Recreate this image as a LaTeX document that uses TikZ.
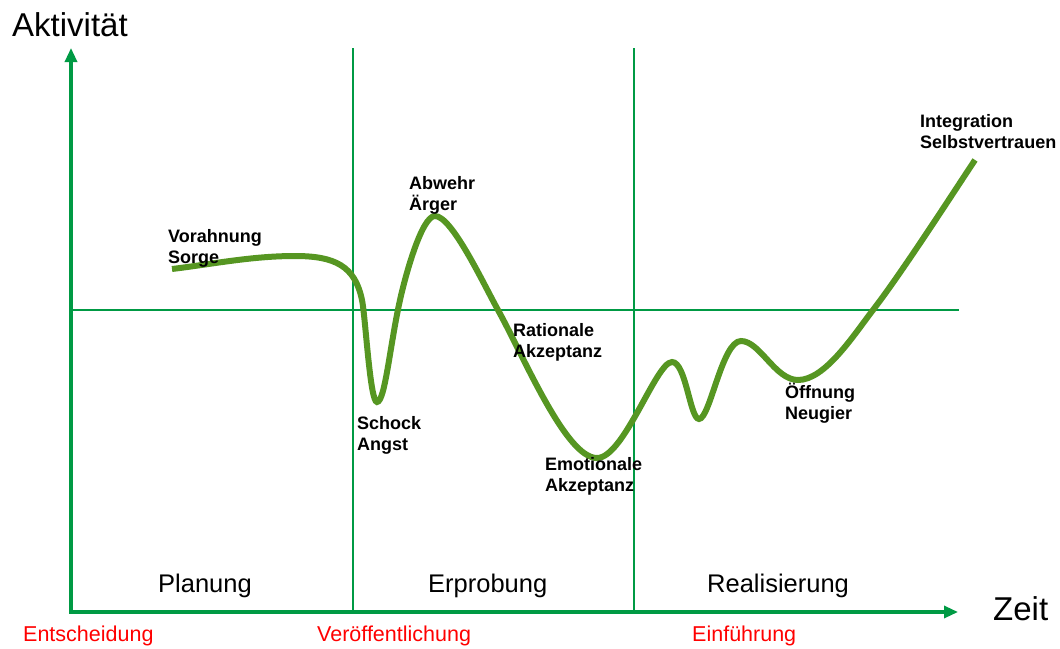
\documentclass[tikz,border=0pt]{standalone}
\usepackage{fontspec}
\setmainfont{Liberation Sans}
\usetikzlibrary{arrows.meta}

\definecolor{axisgreen}{RGB}{0,154,68}
\definecolor{curvegreen}{RGB}{86,150,34}

\begin{document}
\begin{tikzpicture}[x=1pt, y=-1pt,
  axis/.style={draw=axisgreen, line width=3.2pt, line join=miter,
    {Triangle[length=14pt,width=12pt]}-{Triangle[length=14pt,width=12pt]}},
  divider/.style={draw=axisgreen, line width=1.6pt},
  curve/.style={draw=curvegreen, line width=6pt},
  lbl/.style={anchor=base west, inner sep=0pt, align=left, font=\fontsize{18}{21}\selectfont\bfseries},
  phase/.style={anchor=base west, inner sep=0pt, font=\fontsize{25.5}{30}\selectfont},
  milestone/.style={anchor=base west, inner sep=0pt, text=red, font=\fontsize{21.5}{25}\selectfont},
  axislabel/.style={anchor=base west, inner sep=0pt, font=\fontsize{33}{40}\selectfont}
]
\useasboundingbox (0,0) rectangle (1060,648);

% axes and phase grid
\coordinate (origin) at (71,612);
\coordinate (ytip) at (71,48);
\coordinate (xtip) at (958,612);
\draw[divider] (353,48) -- (353,612);
\draw[divider] (634,48) -- (634,612);
\draw[divider] (71,310) -- (959,310);
\draw[axis] (ytip) -- (origin) -- (xtip);

\node[axislabel] (aktivitaet) at (12,36) {Aktivität};
\node[axislabel] (zeit) at (993,620) {Zeit};

% the change curve, one bezier per swing
\draw[curve] (172,269)
  .. controls (213,264) and (252,256) .. (295,256)
  .. controls (335,256) and (355,266) .. (362,300)
  .. controls (365.5,317) and (370,402) .. (377,402)
  .. controls (385,402) and (390,345) .. (400,300)
  .. controls (406,273) and (422,216) .. (435,216)
  .. controls (452,216) and (484,285) .. (498,310)
  .. controls (525,359) and (566,458) .. (597,458)
  .. controls (624,458) and (656,362) .. (672,362)
  .. controls (686,362) and (690,419) .. (699,419)
  .. controls (710,419) and (722,341) .. (741,341)
  .. controls (760,341) and (775,380) .. (798,380)
  .. controls (825,380) and (853,336) .. (873,310)
  .. controls (903,271) and (955,190) .. (975,160);

% stages along the curve
\node[lbl] (vorahnung) at (168,263) {Vorahnung\\Sorge};
\node[lbl] (schock) at (357,450) {Schock\\Angst};
\node[lbl] (abwehr) at (409,210) {Abwehr\\Ärger};
\node[lbl] (rational) at (513,357) {Rationale\\Akzeptanz};
\node[lbl] (emotional) at (545,491) {Emotionale\\Akzeptanz};
\node[lbl] (oeffnung) at (785,419) {Öffnung\\Neugier};
\node[lbl] (integration) at (920,148) {Integration\\Selbstvertrauen};

% phases and milestones
\node[phase] (planung) at (158,592) {Planung};
\node[phase] (erprobung) at (428,592) {Erprobung};
\node[phase] (realisierung) at (707,592) {Realisierung};
\node[milestone] (entscheidung) at (23,641) {Entscheidung};
\node[milestone] (veroeff) at (317,641) {Veröffentlichung};
\node[milestone] (einfuehrung) at (692,641) {Einführung};
\end{tikzpicture}
\end{document}
